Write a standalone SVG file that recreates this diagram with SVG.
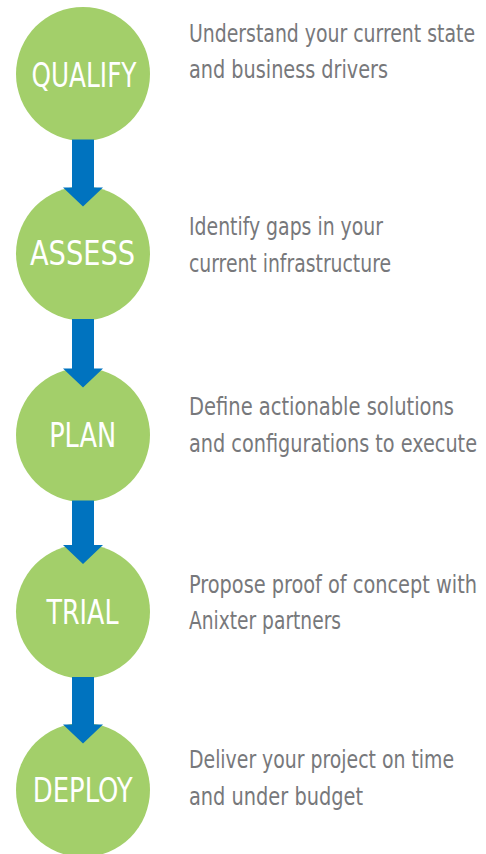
<svg xmlns="http://www.w3.org/2000/svg" width="486" height="854" viewBox="0 0 486 854">
<style>
.c{fill:#a3cf6a}
.lbl{font-family:"Liberation Sans Narrow","DejaVu Sans Condensed","Liberation Sans",sans-serif;font-size:34px;fill:#ffffff;text-anchor:middle}
.d{font-family:"Liberation Sans Narrow","DejaVu Sans Condensed","Liberation Sans",sans-serif;font-size:24px;fill:#77787b}
.a{fill:#0073bf}
</style>
<rect width="486" height="854" fill="#ffffff"/>
<g id="qualify">
<circle class="c" cx="83" cy="74" r="67"/>
<text class="lbl" x="84" y="87" textLength="105" lengthAdjust="spacingAndGlyphs">QUALIFY</text>
<text class="d" transform="translate(189 42) scale(0.8 1)" x="0" y="0" textLength="357.5" lengthAdjust="spacingAndGlyphs">Understand your current state</text>
<text class="d" transform="translate(189 78) scale(0.8 1)" x="0" y="0" textLength="248.75" lengthAdjust="spacingAndGlyphs">and business drivers</text>
</g>
<g id="assess">
<circle class="c" cx="83" cy="253.5" r="67"/>
<text class="lbl" x="82.5" y="265" textLength="105" lengthAdjust="spacingAndGlyphs">ASSESS</text>
<text class="d" transform="translate(189 235) scale(0.8 1)" x="0" y="0" textLength="242.5" lengthAdjust="spacingAndGlyphs">Identify gaps in your</text>
<text class="d" transform="translate(189 271.5) scale(0.8 1)" x="0" y="0" textLength="252.5" lengthAdjust="spacingAndGlyphs">current infrastructure</text>
</g>
<g id="plan">
<circle class="c" cx="83" cy="435" r="67"/>
<text class="lbl" x="82.7" y="447" textLength="67" lengthAdjust="spacingAndGlyphs">PLAN</text>
<text class="d" transform="translate(189 415) scale(0.8 1)" x="0" y="0" textLength="331.25" lengthAdjust="spacingAndGlyphs">Define actionable solutions</text>
<text class="d" transform="translate(189 451.5) scale(0.8 1)" x="0" y="0" textLength="360" lengthAdjust="spacingAndGlyphs">and configurations to execute</text>
</g>
<g id="trial">
<circle class="c" cx="83" cy="611.5" r="67"/>
<text class="lbl" x="82.5" y="624" textLength="72" lengthAdjust="spacingAndGlyphs">TRIAL</text>
<text class="d" transform="translate(189 593) scale(0.8 1)" x="0" y="0" textLength="360" lengthAdjust="spacingAndGlyphs">Propose proof of concept with</text>
<text class="d" transform="translate(189 628.5) scale(0.8 1)" x="0" y="0" textLength="190" lengthAdjust="spacingAndGlyphs">Anixter partners</text>
</g>
<g id="deploy">
<circle class="c" cx="83" cy="790" r="67"/>
<text class="lbl" x="82.7" y="802" textLength="100" lengthAdjust="spacingAndGlyphs">DEPLOY</text>
<text class="d" transform="translate(189 768) scale(0.8 1)" x="0" y="0" textLength="331.25" lengthAdjust="spacingAndGlyphs">Deliver your project on time</text>
<text class="d" transform="translate(189 805) scale(0.8 1)" x="0" y="0" textLength="217.5" lengthAdjust="spacingAndGlyphs">and under budget</text>
</g>
<g id="connectors">
<polygon class="a" points="72,139.5 94,139.5 94,187.5 103,187.5 83,206.5 63,187.5 72,187.5"/>
<polygon class="a" points="72,319 94,319 94,368.5 103,368.5 83,387.5 63,368.5 72,368.5"/>
<polygon class="a" points="72,500.5 94,500.5 94,545 103,545 83,564 63,545 72,545"/>
<polygon class="a" points="72,677 94,677 94,724.5 103,724.5 83,743.5 63,724.5 72,724.5"/>
</g>
</svg>
